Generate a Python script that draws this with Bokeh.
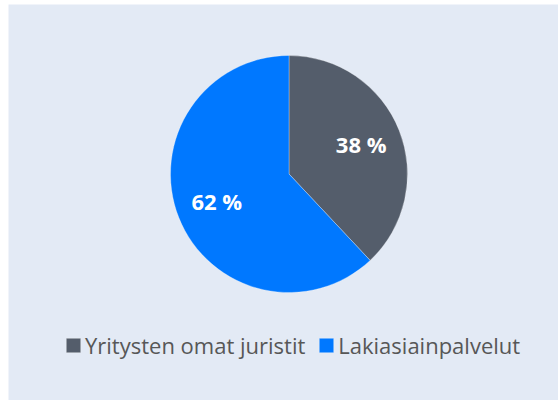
import math
from bokeh.plotting import figure
from bokeh.models import ColumnDataSource, Legend, LegendItem
from bokeh.core.properties import value
from bokeh.embed import file_html
from bokeh.resources import INLINE

# ---- data ----
categories = ["Yritysten omat juristit", "Lakiasiainpalvelut"]
shares = [38, 62]
colors = ["#545D6B", "#0078FF"]
labels = ["38 %", "62 %"]

W, H = 550, 396
BG = "#E3EAF5"

p = figure(width=W + 8, height=H + 4, x_range=(0, W), y_range=(0, H),
           output_backend="svg", toolbar_location=None,
           min_border=0, min_border_left=8, min_border_right=0,
           min_border_top=4, min_border_bottom=0)
p.axis.visible = False
p.grid.visible = False
p.outline_line_color = None
p.background_fill_color = BG
p.border_fill_color = "#FFFFFF"

cx, cy, R = 280.5, 226.5, 118.5
total = float(sum(shares))
starts, ends, mids = [], [], []
acc = 0.0
for s in shares:
    a0 = math.pi / 2 - 2 * math.pi * acc / total
    acc += s
    a1 = math.pi / 2 - 2 * math.pi * acc / total
    starts.append(a0)
    ends.append(a1)
    mids.append((a0 + a1) / 2)

src = ColumnDataSource(dict(
    x=[cx] * len(shares), y=[cy] * len(shares),
    start=starts, end=ends, color=colors, cat=categories,
    lx=[cx + 0.655 * R * math.cos(m) for m in mids],
    ly=[cy + 0.655 * R * math.sin(m) + 1.5 for m in mids],
    label=labels,
))

wedges = p.wedge(x="x", y="y", radius=R, start_angle="start", end_angle="end",
                 direction="clock", fill_color="color", line_color="#FFFFFF",
                 line_width=0.5, line_alpha=0.6, source=src)

p.text(x="lx", y="ly", text="label", source=src, text_color="#FFFFFF",
       text_font=value("Open Sans"), text_font_style="bold",
       text_font_size="22px", text_align="center", text_baseline="middle")

items = [LegendItem(label=c, renderers=[wedges], index=i) for i, c in enumerate(categories)]
legend = Legend(items=items, orientation="horizontal", location=(56, 40),
                background_fill_alpha=0, border_line_color=None,
                label_text_font="Open Sans", label_text_font_size="22px",
                label_text_color="#575757", glyph_width=18, glyph_height=18,
                label_standoff=3, spacing=12, padding=0, margin=0,
                label_height=18)
p.add_layout(legend, "center")

open("out.html", "w").write(file_html(p, INLINE))
